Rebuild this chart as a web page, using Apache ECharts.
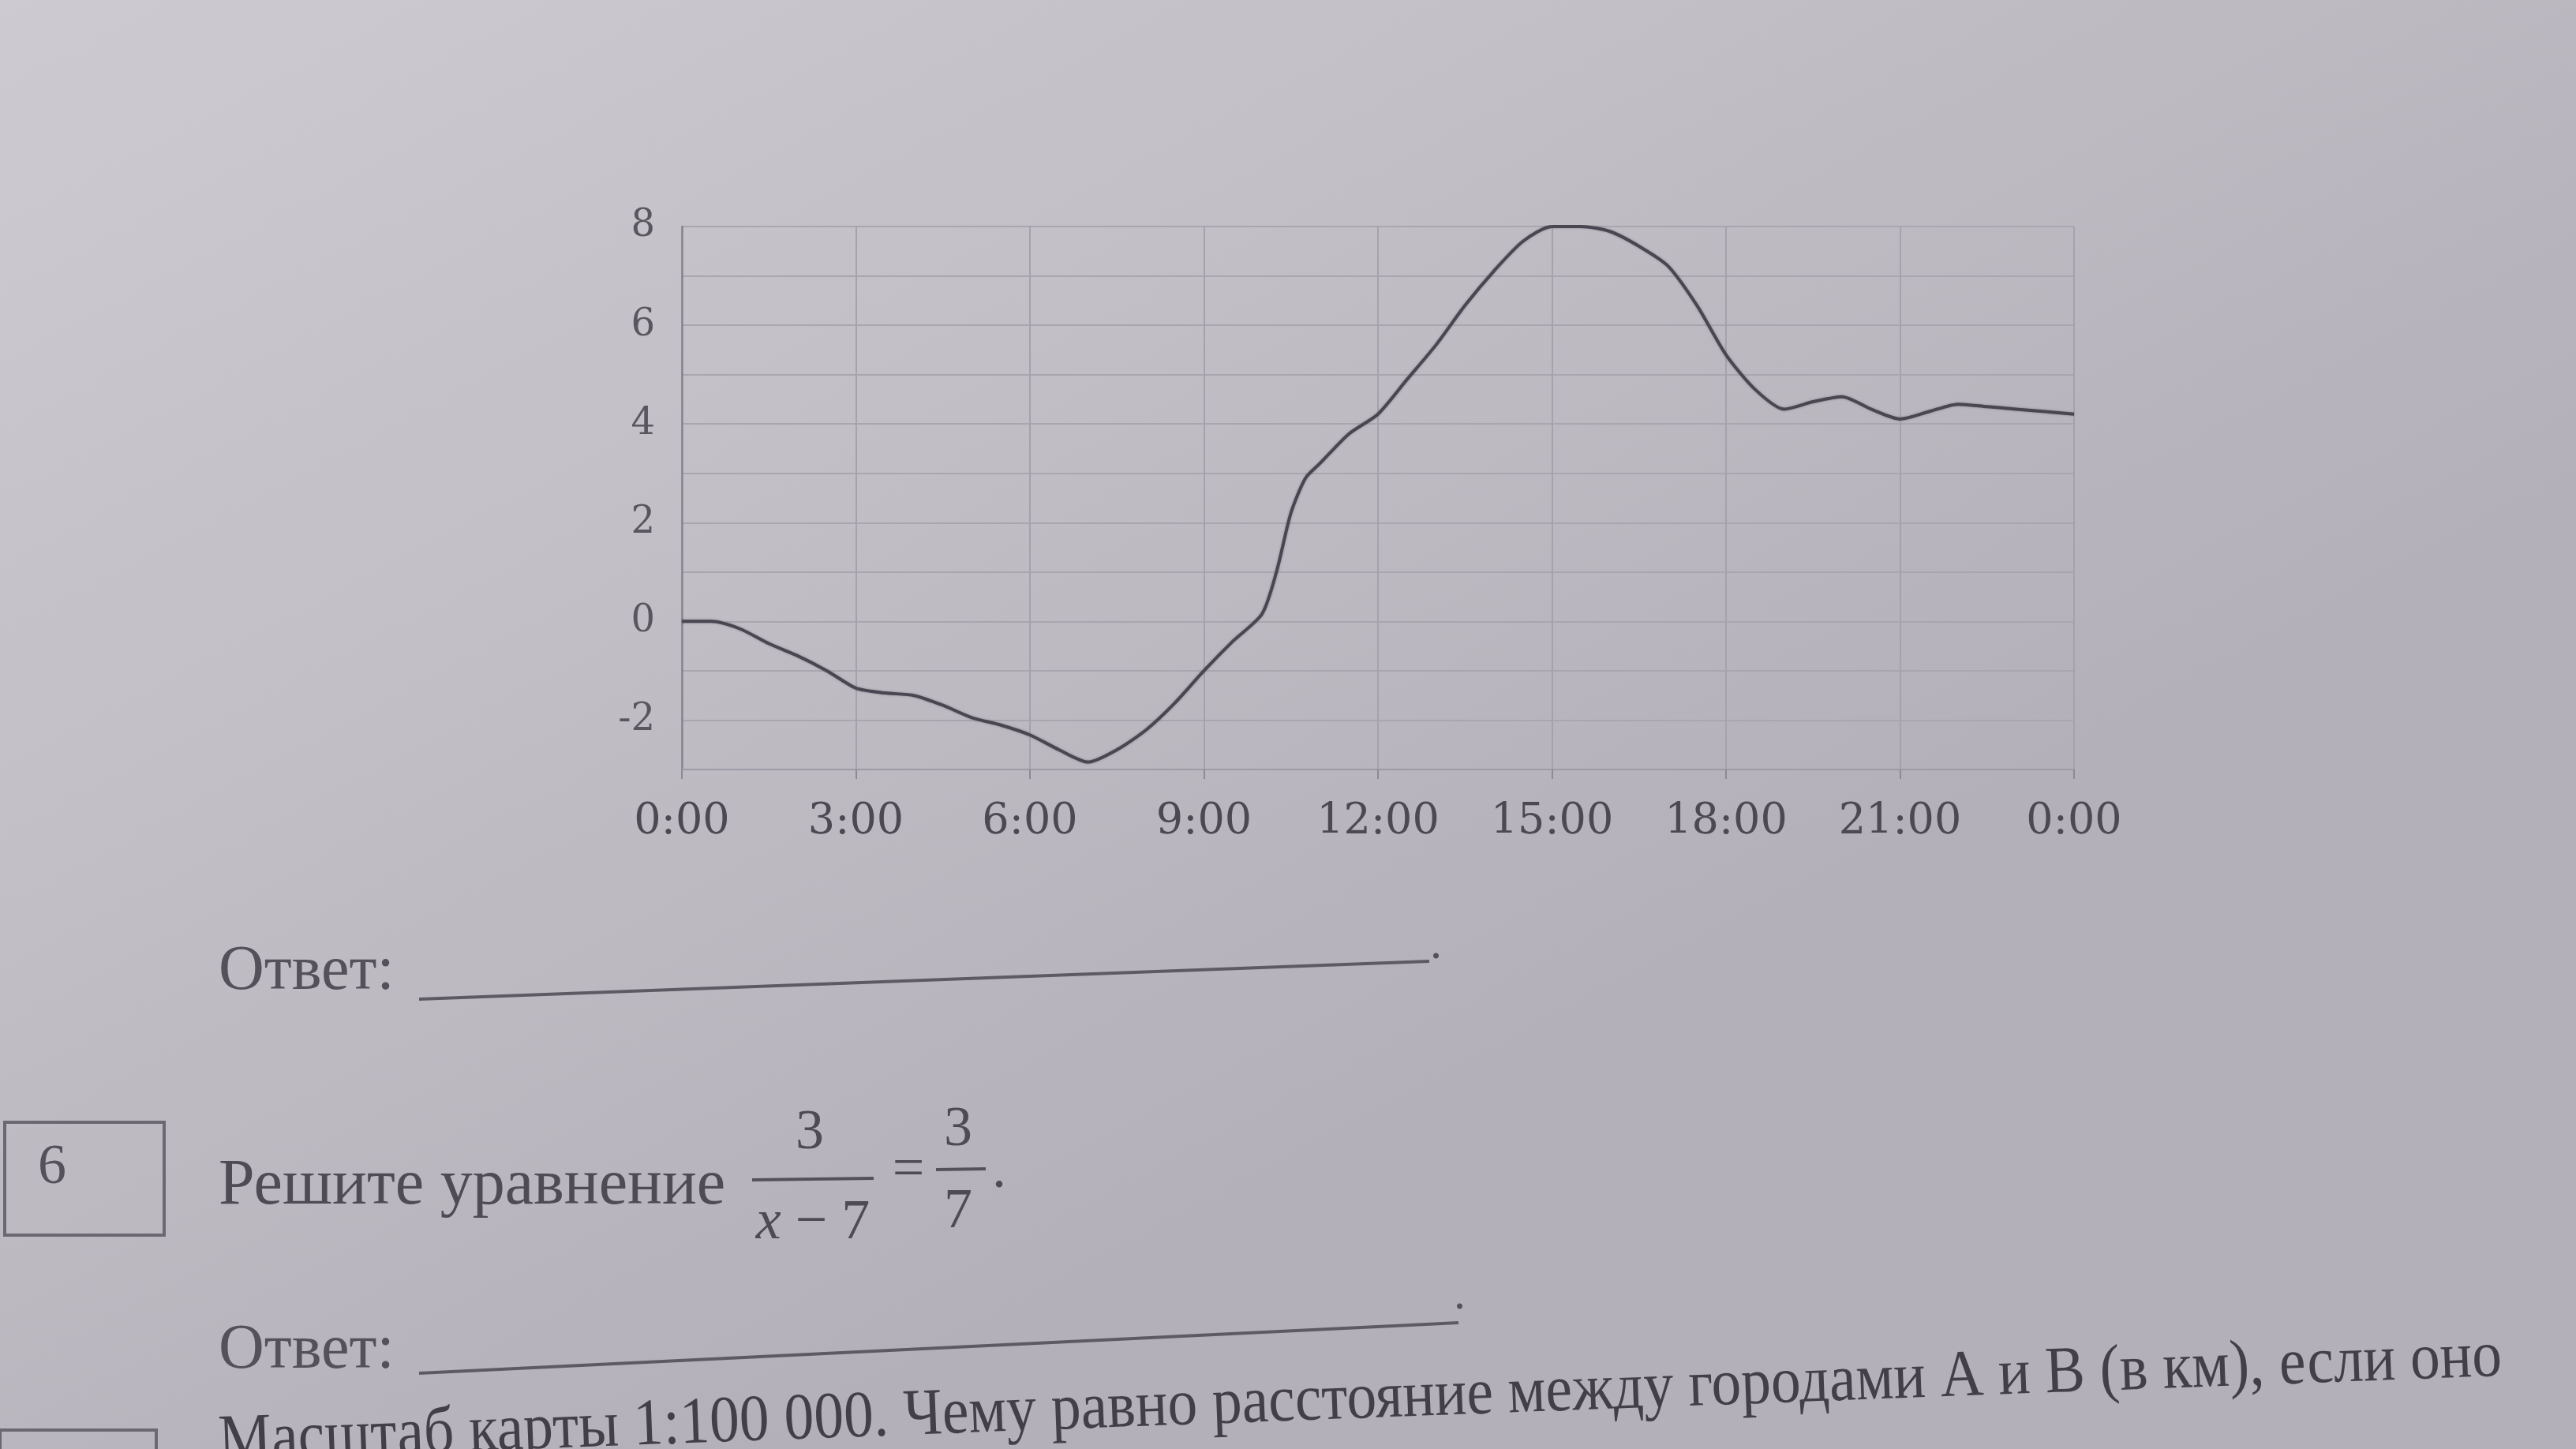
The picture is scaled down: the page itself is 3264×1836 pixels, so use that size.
<!DOCTYPE html>
<html>
<head>
<meta charset="utf-8">
<script src="https://cdn.jsdelivr.net/npm/echarts@6/dist/echarts.min.js"></script>
<style>
html,body{margin:0;padding:0;width:3264px;height:1836px;overflow:hidden;background:#c1bdc4;}
#c{width:3264px;height:1836px;}
</style>
</head>
<body>
<div id="c"></div>
<script>
// Time of day (hours) and temperature readings
const hours = [0,0.5,1,1.5,2,2.5,3,3.5,4,4.5,5,5.5,6,6.5,7,7.5,8,8.5,9,9.5,10,10.25,10.5,10.75,11,11.5,12,12.5,13,13.5,14,14.5,15,15.5,16,16.5,17,17.5,18,18.5,19,19.5,20,20.5,21,21.5,22,22.5,23,23.5,24];
const temps = [0,0,-0.15,-0.45,-0.7,-1.0,-1.35,-1.45,-1.5,-1.7,-1.95,-2.1,-2.3,-2.6,-2.85,-2.6,-2.2,-1.65,-1.0,-0.4,0.15,1.0,2.2,2.9,3.2,3.8,4.2,4.9,5.6,6.4,7.1,7.7,8.0,8.0,7.9,7.6,7.2,6.4,5.4,4.7,4.3,4.45,4.55,4.3,4.1,4.25,4.4,4.35,4.3,4.25,4.2];
const xTickLabels = ['0:00','3:00','6:00','9:00','12:00','15:00','18:00','21:00','0:00'];
const yTickLabels = ['-2','0','2','4','6','8'];

const seriesData = hours.map((h, i) => [h, temps[i]]);
const chart = echarts.init(document.getElementById('c'));
const ink = '#4a4651';
const serif = '"Liberation Serif", "DejaVu Serif", serif';

chart.setOption({
  backgroundColor: {
    type: 'linear', x: 0, y: 0, x2: 0.3, y2: 1,
    colorStops: [{offset: 0, color: '#cdcad1'}, {offset: 0.5, color: '#c2bec6'}, {offset: 1, color: '#b4b0b9'}]
  },
  animation: false,
  grid: {left: 864, right: 636, top: 287, bottom: 861},
  xAxis: {
    type: 'value', min: 0, max: 24, interval: 3,
    axisLine: {show: true, onZero: false, lineStyle: {color: '#9f9ba6', width: 2}},
    axisTick: {show: true, length: 12, lineStyle: {color: '#8e8a95', width: 2}},
    axisLabel: {
      margin: 40, fontSize: 54, color: '#4d4953', fontFamily: '"DejaVu Serif", serif',
      formatter: v => xTickLabels[Math.round(v / 3)] || ''
    },
    splitLine: {show: true, lineStyle: {color: '#a6a2ad', width: 2}}
  },
  yAxis: {
    type: 'value', min: -3, max: 8, interval: 1,
    axisLine: {show: true, onZero: false, lineStyle: {color: '#8a8691', width: 2.5}},
    axisTick: {show: false},
    axisLabel: {
      margin: 34, fontSize: 48, color: '#5a5660', fontFamily: '"DejaVu Serif", serif',
      formatter: v => yTickLabels.includes(String(v)) ? String(v) : ''
    },
    splitLine: {show: true, lineStyle: {color: '#aaa6b0', width: 2}}
  },
  series: [{
    type: 'line', data: seriesData, smooth: 0.25, symbol: 'none',
    lineStyle: {color: ink, width: 4, shadowBlur: 3, shadowColor: 'rgba(60,55,65,0.4)'}
  }],
  graphic: [
    // right border of the plot
    {type: 'line', shape: {x1: 2628, y1: 287, x2: 2628, y2: 975}, style: {stroke: '#a6a2ad', lineWidth: 2}},
    // first answer line
    {type: 'text', left: 277, top: 1192, style: {text: 'Ответ:', font: '80px ' + serif, fill: '#55515b'}},
    {type: 'line', shape: {x1: 531, y1: 1266, x2: 1811, y2: 1218}, style: {stroke: '#5e5a64', lineWidth: 4}},
    {type: 'text', left: 1812, top: 1168, style: {text: '.', font: '60px ' + serif, fill: '#55515b'}},
    // task 6 box
    {type: 'rect', shape: {x: 6, y: 1422, width: 202, height: 143}, style: {fill: 'none', stroke: '#6c6872', lineWidth: 4}},
    {type: 'text', left: 48, top: 1444, style: {text: '6', font: '72px ' + serif, fill: '#55515b'}},
    {type: 'text', left: 277, top: 1462, style: {text: 'Решите уравнение', font: '82px ' + serif, fill: '#4f4b55'}},
    // fraction 3/(x-7) = 3/7
    {type: 'text', x: 1026, y: 1436, style: {text: '3', font: '72px ' + serif, fill: '#4f4b55', textAlign: 'center', textVerticalAlign: 'middle'}},
    {type: 'line', shape: {x1: 953, y1: 1495, x2: 1107, y2: 1493}, style: {stroke: '#55515b', lineWidth: 4}},
    {type: 'text', x: 1030, y: 1550, style: {text: '{i|x} − 7', font: '72px ' + serif, fill: '#4f4b55', textAlign: 'center', textVerticalAlign: 'middle',
      rich: {i: {fontStyle: 'italic', fontSize: 72, fontFamily: serif, fill: '#4f4b55'}}}},
    {type: 'text', x: 1151, y: 1484, style: {text: '=', font: '72px ' + serif, fill: '#4f4b55', textAlign: 'center', textVerticalAlign: 'middle'}},
    {type: 'text', x: 1214, y: 1432, style: {text: '3', font: '72px ' + serif, fill: '#4f4b55', textAlign: 'center', textVerticalAlign: 'middle'}},
    {type: 'line', shape: {x1: 1186, y1: 1482, x2: 1249, y2: 1481}, style: {stroke: '#55515b', lineWidth: 4}},
    {type: 'text', x: 1214, y: 1536, style: {text: '7', font: '72px ' + serif, fill: '#4f4b55', textAlign: 'center', textVerticalAlign: 'middle'}},
    {type: 'text', x: 1266, y: 1485, style: {text: '.', font: '72px ' + serif, fill: '#4f4b55', textAlign: 'center', textVerticalAlign: 'middle'}},
    // second answer line
    {type: 'text', left: 277, top: 1672, style: {text: 'Ответ:', font: '80px ' + serif, fill: '#55515b'}},
    {type: 'line', shape: {x1: 531, y1: 1740, x2: 1848, y2: 1676}, style: {stroke: '#5e5a64', lineWidth: 4}},
    {type: 'text', left: 1842, top: 1612, style: {text: '.', font: '60px ' + serif, fill: '#55515b'}},
    // partially visible next task
    {type: 'rect', shape: {x: 0, y: 1812, width: 198, height: 80}, style: {fill: 'none', stroke: '#6c6872', lineWidth: 4}},
    {type: 'text', x: 277, y: 1828, rotation: 0.037, scaleX: 0.90, style: {text: 'Масштаб карты 1:100 000. Чему равно расстояние между городами А и В (в км), если оно', font: '84px ' + serif, fill: '#433f49', textAlign: 'left', textVerticalAlign: 'middle'}}
  ]
});
</script>
</body>
</html>
